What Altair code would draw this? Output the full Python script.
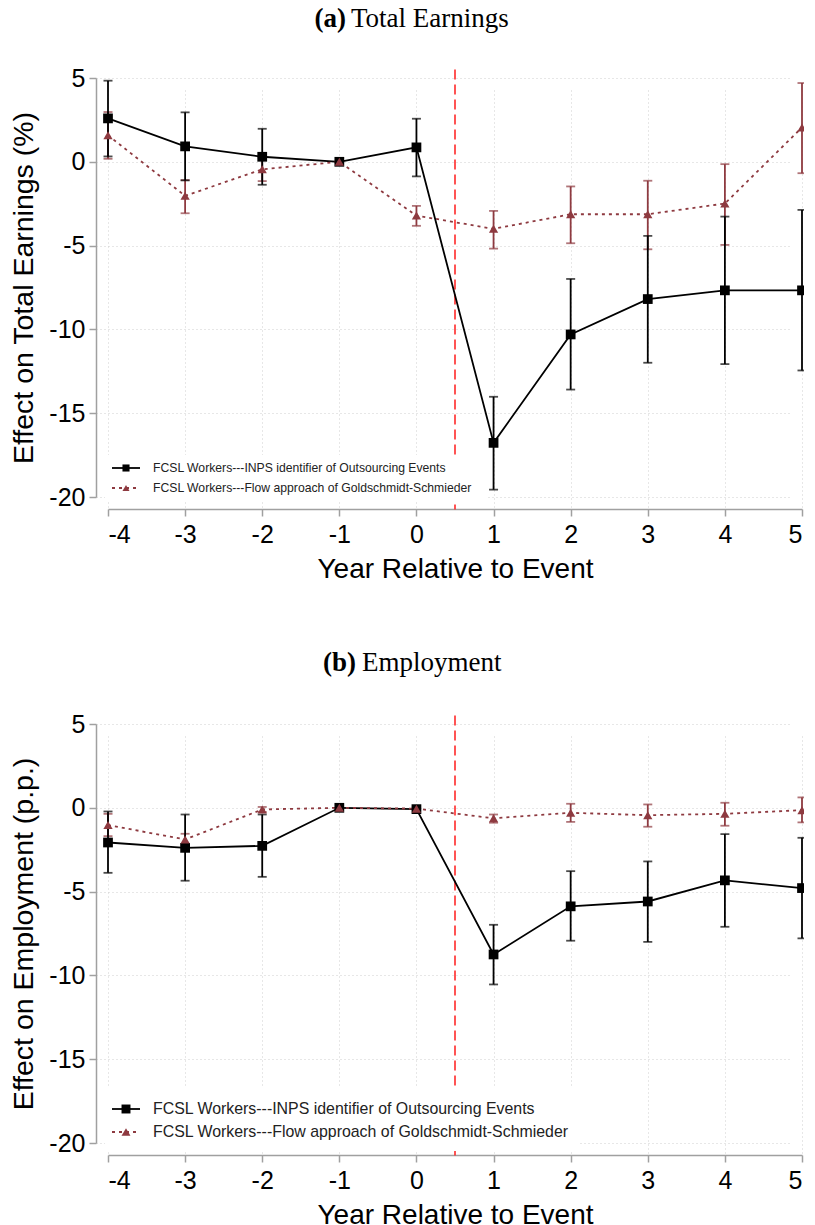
import altair as alt
import pandas as pd

years = [-4, -3, -2, -1, 0, 1, 2, 3, 4, 5]
y_ticks = [5, 0, -5, -10, -15, -20]
series_names = [
    "FCSL Workers---INPS identifier of Outsourcing Events",
    "FCSL Workers---Flow approach of Goldschmidt-Schmieder",
]

# Panel (a): Total Earnings (%)
earn_inps = [2.59, 0.92, 0.30, 0.0, 0.86, -16.77, -10.30, -8.19, -7.67, -7.67]
earn_inps_lo = [0.32, -1.11, -1.37, None, -0.87, -19.56, -13.59, -11.99, -12.07, -12.45]
earn_inps_hi = [4.84, 2.95, 1.97, None, 2.57, -14.02, -6.99, -4.42, -3.27, -2.87]
earn_flow = [1.58, -2.03, -0.45, 0.0, -3.21, -4.00, -3.13, -3.13, -2.49, 2.05]
earn_flow_lo = [0.18, -3.07, -1.15, None, -3.82, -5.18, -4.86, -5.22, -4.96, -0.68]
earn_flow_hi = [2.97, -1.09, 0.25, None, -2.63, -2.93, -1.47, -1.13, -0.14, 4.70]

# Panel (b): Employment (p.p.)
emp_inps = [-2.07, -2.39, -2.27, 0.0, -0.08, -8.75, -5.88, -5.59, -4.33, -4.79]
emp_inps_lo = [-3.88, -4.35, -4.12, None, -0.20, -10.54, -7.93, -8.00, -7.10, -7.79]
emp_inps_hi = [-0.22, -0.40, -0.40, None, 0.04, -6.98, -3.78, -3.20, -1.57, -1.79]
emp_flow = [-1.03, -1.89, -0.10, 0.0, -0.05, -0.63, -0.30, -0.44, -0.36, -0.14]
emp_flow_lo = [-1.69, -2.23, -0.25, None, -0.15, -0.89, -0.84, -1.13, -1.07, -0.87]
emp_flow_hi = [-0.36, -1.55, 0.05, None, 0.05, -0.40, 0.24, 0.20, 0.30, 0.62]

event_line = [0.5]
event_span = [5.5, -20.75]

BLACK = "#000000"
RED = "#8e3a40"
W, H = 694, 419


def frame(vals, lo, hi):
    return pd.DataFrame({"year": years, "est": vals, "lo": lo, "hi": hi})


def panel(tag, rest, tag_x, rest_x, title_y, ytitle, inps, flow, leg):
    xs = alt.Scale(domain=[-4, 5], nice=False, zero=False)
    ys = alt.Scale(domain=[-20, 5], nice=False, zero=False)
    xax = alt.Axis(values=years, title="Year Relative to Event", labelExpr="'' + datum.value")
    yax = alt.Axis(values=y_ticks, title=ytitle, labelExpr="'' + datum.value")

    X = alt.X("year:Q", scale=xs, axis=xax)

    ev = alt.Chart(pd.DataFrame({"x": event_line, "y": [event_span[0]], "y2": [event_span[1]]})).mark_rule(
        color="#ff2a2a", strokeDash=[10, 5], strokeWidth=1.6
    ).encode(x=alt.X("x:Q", scale=xs, axis=xax), y=alt.Y("y:Q", scale=ys, axis=yax), y2="y2:Q")

    def ci(df, color):
        base = alt.Chart(df).transform_filter("isValid(datum.lo)")
        r = base.mark_rule(color=color, strokeWidth=1.8).encode(x=X, y=alt.Y("lo:Q", scale=ys, axis=yax), y2="hi:Q")
        t1 = base.mark_tick(color=color, orient="horizontal", size=9, thickness=1.8).encode(x=X, y=alt.Y("lo:Q", scale=ys, axis=yax))
        t2 = base.mark_tick(color=color, orient="horizontal", size=9, thickness=1.8).encode(x=X, y=alt.Y("hi:Q", scale=ys, axis=yax))
        return r + t1 + t2

    def line(df, color, dash):
        kw = dict(color=color, strokeWidth=1.8)
        if dash:
            kw["strokeDash"] = dash
        return alt.Chart(df).mark_line(**kw).encode(x=X, y=alt.Y("est:Q", scale=ys, axis=yax))

    def pts(df, color, shape, size):
        return alt.Chart(df).mark_point(shape=shape, filled=True, size=size, color=color, opacity=1).encode(
            x=X, y=alt.Y("est:Q", scale=ys, axis=yax)
        )

    # legend (drawn from the series names)
    lx0, lx1, ly0, ly1, rows, fs, msz = leg
    box = alt.Chart(pd.DataFrame({"a": [0]})).mark_rect(fill="white").encode(
        x=alt.value(lx0), x2=alt.value(lx1), y=alt.value(ly0), y2=alt.value(ly1)
    )
    legend_layers = [box]
    styles = [(BLACK, None, "square"), (RED, [3, 4], "triangle-up")]
    for name, ry, (col, dash, shp) in zip(series_names, rows, styles):
        d = pd.DataFrame({"label": [name]})
        kw = dict(color=col, strokeWidth=1.8)
        if dash:
            kw["strokeDash"] = dash
        legend_layers.append(alt.Chart(d).mark_rule(**kw).encode(x=alt.value(4), x2=alt.value(32), y=alt.value(ry)))
        legend_layers.append(alt.Chart(d).mark_point(shape=shp, filled=True, size=msz, color=col, opacity=1).encode(
            x=alt.value(18), y=alt.value(ry)))
        legend_layers.append(alt.Chart(d).mark_text(align="left", baseline="middle", fontSize=fs,
                                                    font="Liberation Sans", color="#222222").encode(
            x=alt.value(45), y=alt.value(ry), text="label:N"))

    # panel title: bold tag + regular text
    t_tag = alt.Chart(pd.DataFrame({"t": [tag]})).mark_text(
        align="right", baseline="alphabetic", fontSize=27, font="Liberation Serif", fontWeight="bold", color="black"
    ).encode(x=alt.value(tag_x), y=alt.value(title_y), text="t:N")
    t_rest = alt.Chart(pd.DataFrame({"t": [rest]})).mark_text(
        align="left", baseline="alphabetic", fontSize=27, font="Liberation Serif", color="black"
    ).encode(x=alt.value(rest_x), y=alt.value(title_y), text="t:N")

    di, df_ = inps, flow
    layers = [ev, ci(df_, RED), ci(di, BLACK), line(di, BLACK, None), line(df_, RED, [3, 4]),
              pts(di, BLACK, "square", 95), pts(df_, RED, "triangle-up", 85)] + legend_layers + [t_tag, t_rest]
    return alt.layer(*layers).properties(width=W, height=H)


pa = panel("(a)", "Total Earnings", 238, 243, -51, "Effect on Total Earnings (%)",
           frame(earn_inps, earn_inps_lo, earn_inps_hi), frame(earn_flow, earn_flow_lo, earn_flow_hi),
           (-3, 378, 377, 422, [390, 410], 12.2, 50))
pb = panel("(b)", "Employment", 248, 254, -53, "Effect on Employment (p.p.)",
           frame(emp_inps, emp_inps_lo, emp_inps_hi), frame(emp_flow, emp_flow_lo, emp_flow_hi),
           (-3, 471, 364, 427, [385, 408], 15.9, 80))

chart = alt.vconcat(pa, pb, spacing=66).properties(
    padding={"left": 1, "top": -3, "right": -3, "bottom": 5}
).configure_view(stroke=None).configure_axis(
    labelFont="Liberation Sans", titleFont="Liberation Sans", labelFontSize=25, titleFontSize=28,
    titleFontWeight="normal", labelColor="black", titleColor="black",
    domainColor="#a0a0a0", tickColor="#a0a0a0", tickSize=7, domainWidth=1.5, tickWidth=1.5,
    gridColor="#cfcfcf", gridDash=[1, 3], gridWidth=1, offset=12,
).configure_axisX(labelPadding=6, titlePadding=8).configure_axisY(labelPadding=4, titlePadding=10, titleFontSize=28.5)

chart.save("out.html", embed_options={"renderer": "svg", "actions": False})
